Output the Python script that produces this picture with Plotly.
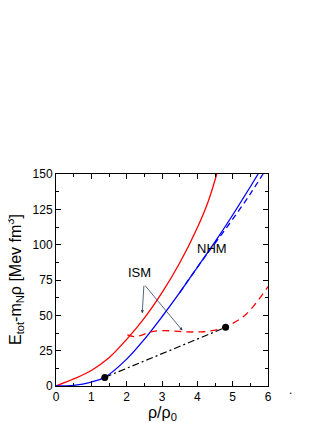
import plotly.graph_objects as go

ism_x = [0, 0.5, 1, 1.5, 2, 2.5, 3, 3.5, 4, 4.3, 4.55]
ism_y = [0, 5, 11, 20, 33, 48, 66, 87, 112, 130, 150]

nhm_x = [0, 0.5, 1, 1.38, 2, 2.5, 3, 3.5, 4, 4.5, 5, 5.5, 5.72]
nhm_y = [0, 0.5, 2.8, 6.1, 19, 33, 49, 66, 84, 102, 121, 141, 150]

nhm_d_x = [3.5, 4, 4.5, 5, 5.5, 5.86]
nhm_d_y = [66, 84, 101, 118, 136, 150]

ism_d_x = [2.02, 2.2, 2.38, 2.66, 3.04, 3.6, 4.17, 4.64, 4.92, 5.39, 6.0]
ism_d_y = [36.1, 35, 35.6, 38.2, 39.2, 38.4, 38.4, 40.3, 43.2, 51.0, 70.3]

dots_x = [1.38, 4.8]
dots_y = [6.1, 41.5]

fig = go.Figure()
fig.add_trace(go.Scatter(x=ism_x, y=ism_y, mode='lines', line=dict(color='red', width=1.3, shape='spline')))
fig.add_trace(go.Scatter(x=nhm_x, y=nhm_y, mode='lines', line=dict(color='blue', width=1.3, shape='spline')))
fig.add_trace(go.Scatter(x=nhm_d_x, y=nhm_d_y, mode='lines', line=dict(color='blue', width=1.3, dash='6px,4px', shape='spline')))
fig.add_trace(go.Scatter(x=ism_d_x, y=ism_d_y, mode='lines', line=dict(color='red', width=1.3, dash='7px,5px', shape='spline')))
fig.add_trace(go.Scatter(x=dots_x, y=dots_y, mode='lines', line=dict(color='black', width=1.2, dash='7px,3px,2px,3px')))
fig.add_trace(go.Scatter(x=dots_x, y=dots_y, mode='markers', marker=dict(color='black', size=7)))

# ISM label with two arrows
fig.add_annotation(x=2.36, y=80, text='ISM', showarrow=False, font=dict(size=13))
fig.add_annotation(x=2.44, y=51.4, ax=2.49, ay=72, xref='x', yref='y', axref='x', ayref='y',
                   text='', showarrow=True, arrowhead=2, arrowsize=0.8, arrowwidth=0.8)
fig.add_annotation(x=3.58, y=39.2, ax=2.49, ay=72, xref='x', yref='y', axref='x', ayref='y',
                   text='', showarrow=True, arrowhead=2, arrowsize=0.8, arrowwidth=0.8)
fig.add_annotation(x=4.42, y=97, text='NHM', showarrow=False, font=dict(size=13))

# axis titles as annotations so they sit where the reference has them
fig.add_annotation(x=0.5, y=0, xref='paper', yref='paper', yshift=-27, yanchor='middle',
                   text='ρ/ρ<sub>0</sub>', showarrow=False, font=dict(size=16))
fig.add_annotation(x=0, y=0.5, xref='paper', yref='paper', xshift=-41, xanchor='center',
                   text='E<sub>tot</sub>-m<sub>N</sub>ρ [Mev fm<sup>3</sup>]', textangle=-90,
                   showarrow=False, font=dict(size=16))
fig.add_annotation(x=1.123, y=0, xref='paper', yref='paper', yshift=-4, yanchor='middle',
                   text='.', showarrow=False, font=dict(size=12))

axis_common = dict(showgrid=False, zeroline=False, showline=True, linecolor='black', linewidth=1,
                   mirror='allticks', ticks='inside', ticklen=5, tickcolor='black', automargin=False,
                   minor=dict(ticks='inside', ticklen=3, tickcolor='black'))

# page body has an 8px margin, so the figure is 8px smaller and shifted
fig.update_layout(
    width=319, height=415,
    margin=dict(l=48, r=59, t=166, b=37),
    plot_bgcolor='white', paper_bgcolor='white',
    showlegend=False,
    font=dict(family='Liberation Sans, Arial', size=12, color='black'),
    xaxis=dict(range=[0, 6], dtick=1, minor_dtick=0.5, **axis_common),
    yaxis=dict(range=[0, 150], dtick=25, minor_dtick=12.5, **axis_common),
)

fig.write_html("out.html")
